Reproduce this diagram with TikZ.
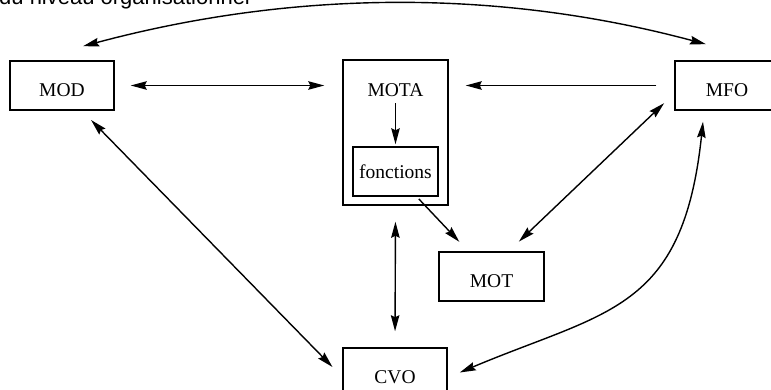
\documentclass[tikz,border=0pt]{standalone}
\usepackage{fontspec}
\setmainfont{Liberation Serif}
\newfontfamily\titrefont{Liberation Sans}
\usetikzlibrary{arrows.meta}

\begin{document}
\begin{tikzpicture}[x=1pt, y=-1pt, >={Stealth[length=16pt, width=8.5pt, inset=2pt]},
    box/.style={draw, line width=1.5pt, inner sep=0pt, minimum width=104pt, minimum height=49pt, font=\fontsize{19.5}{23}\selectfont},
    capbox/.style={box, text height=22pt, text depth=0pt},
    fleche/.style={line width=1.4pt}]
    \useasboundingbox (0,0) rectangle (771,390);

    % Titre
    \node[anchor=base west, inner sep=0pt, font=\titrefont\fontsize{22}{26}\selectfont] (titre) at (-1,5) {du niveau organisationnel};

    % Boites
    \node[capbox] (mod) at (62,85.5) {MOD};
    \node[capbox] (mfo) at (727,85.5) {MFO};
    \node[box, minimum width=105pt, minimum height=145pt] (mota) at (395.5,132.5) {};
    \node[inner sep=0pt, text height=22pt, text depth=0pt, font=\fontsize{19.5}{23}\selectfont] (motalbl) at (395.5,85.5) {MOTA};
    \node[box, minimum width=85pt] (fonc) at (395.5,171.5) {fonctions};
    \node[capbox, minimum width=105pt] (mot) at (491.5,276.5) {MOT};
    \node[capbox] (cvo) at (395,372.5) {CVO};

    % Fleches droites
    \draw[fleche, <->, shorten <=16pt, shorten >=18pt] (mod.east) -- (mod.east -| mota.west);
    \draw[fleche, ->, shorten <=18pt, shorten >=17pt] (mfo.west) -- (mfo.west -| mota.east);
    \draw[fleche, ->, shorten <=6.5pt, shorten >=2pt] (motalbl.south) -- (fonc.north);
    \draw[fleche, ->, shorten <=3pt, shorten >=13pt] ([xshift=-22pt]fonc.south east) -- ([xshift=30pt]mot.north west);
    \draw[fleche, <->, shorten <=14pt, shorten >=14pt] ([yshift=-8pt]mfo.west) -- ([xshift=-36pt]mot.north east);
    \draw[fleche, <->, shorten <=16pt, shorten >=16pt] (mota.south) -- (cvo.north);
    \draw[fleche, <->, shorten <=13pt, shorten >=14pt] ([xshift=20pt]mod.south) -- ([yshift=-4.5pt]cvo.west);

    % Courbes
    \draw[fleche, <->] ([xshift=21pt, yshift=14pt]mod.north) .. controls +(209,-56) and +(-209,-56) .. ([xshift=-21pt, yshift=16pt]mfo.north);
    \draw[fleche, <->] ([xshift=-24pt, yshift=-11pt]mfo.south) .. controls +(-20,190) and +(147,-62) .. ([xshift=12pt]cvo.east);
\end{tikzpicture}
\end{document}
